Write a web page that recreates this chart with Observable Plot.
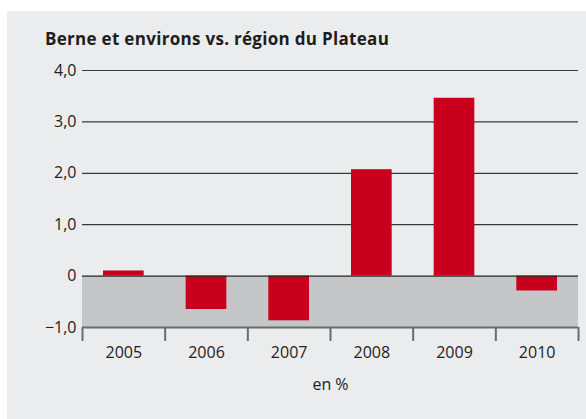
<!DOCTYPE html>
<html>
<head>
<meta charset="utf-8">
<script src="https://cdn.jsdelivr.net/npm/d3@7"></script>
<script src="https://cdn.jsdelivr.net/npm/@observablehq/plot@0.6"></script>
<style>
  html, body { margin: 0; padding: 0; background: #ffffff; width: 586px; height: 419px; overflow: hidden; }
  #panel { position: absolute; left: 7px; top: 11px; width: 579px; height: 408px; background: #ebeced; }
  #title { position: absolute; left: 45px; top: 30px; font-family: "Open Sans", sans-serif; font-weight: 700; font-size: 17px; letter-spacing: 0.3px; line-height: 17px; color: #1e1e1e; white-space: nowrap; }
  #chart { position: absolute; left: 0; top: 55px; }
</style>
</head>
<body>
<div id="panel"></div>
<div id="title">Berne et environs vs. région du Plateau</div>
<div id="chart"></div>
<script>
const years = [2005, 2006, 2007, 2008, 2009, 2010];
const values = [0.10, -0.65, -0.87, 2.07, 3.46, -0.29];
const yTicks = [-1, 0, 1, 2, 3, 4];
const yTickLabels = ["\u22121,0", "0", "1,0", "2,0", "3,0", "4,0"];
const axisLabel = "en %";

const data = years.map((year, i) => ({year, i, value: values[i]}));

const chart = Plot.plot({
  width: 586,
  height: 364,
  marginTop: 15,
  marginBottom: 92,
  marginLeft: 82,
  marginRight: 8,
  style: {fontFamily: "'Open Sans', sans-serif", fontSize: "16px", background: "transparent", color: "#222"},
  x: {type: "linear", domain: [0, years.length]},
  y: {domain: [-1, 4]},
  marks: [
    Plot.rect([{x1: 0, x2: years.length, y1: -1, y2: 0}], {x1: "x1", x2: "x2", y1: "y1", y2: "y2", fill: "#c5c6c8"}),
    Plot.ruleY(yTicks.filter(v => v > 0), {stroke: "#3a3a3a", strokeWidth: 1.2}),
    Plot.rectY(data, {x1: d => d.i, x2: d => d.i + 1, y: "value", insetLeft: 21, insetRight: 21, fill: "#c8001e"}),
    Plot.ruleY([0], {stroke: "#2a2a2a", strokeWidth: 1.2}),
    Plot.ruleY([-1], {stroke: "#6a6a6a", strokeWidth: 2}),
    Plot.axisY({ticks: yTicks, tickSize: 0, tickPadding: 6, tickFormat: v => yTickLabels[yTicks.indexOf(v)], label: null, fill: "#222"}),
    Plot.axisX({ticks: d3.range(years.length + 1), tickSize: 14, tickFormat: () => "", stroke: "#6a6a6a", strokeWidth: 2, label: null}),
    Plot.axisX({ticks: years.map((y, i) => i + 0.5), tickSize: 0, tickPadding: 19, tickFormat: v => String(years[Math.floor(v)]), label: axisLabel, labelAnchor: "center", labelArrow: "none", labelOffset: 62, fill: "#222"})
  ]
});
document.getElementById("chart").appendChild(chart);
</script>
</body>
</html>
